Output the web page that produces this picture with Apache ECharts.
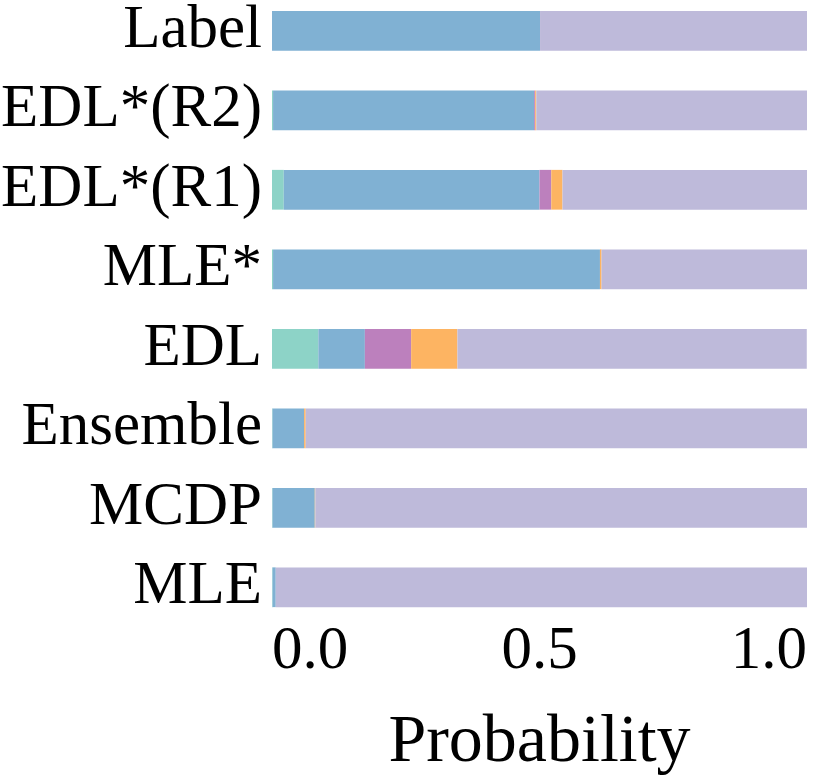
<!DOCTYPE html>
<html>
<head>
<meta charset="utf-8">
<script src="https://cdn.jsdelivr.net/npm/echarts@6/dist/echarts.min.js"></script>
<style>html,body{margin:0;padding:0;background:#fff;}#c{width:814px;height:781px;}</style>
</head>
<body>
<div id="c"></div>
<script>
const categories = ['MLE', 'MCDP', 'Ensemble', 'EDL', 'MLE*', 'EDL*(R1)', 'EDL*(R2)', 'Label'];
const teal     = [0.001, 0.001, 0.001, 0.0866, 0.002, 0.022, 0.002, 0.0];
const blue     = [0.006, 0.079, 0.059, 0.087, 0.611, 0.478, 0.488, 0.501];
const purple   = [0.0, 0.0, 0.0, 0.0865, 0.0, 0.022, 0.002, 0.0];
const orange   = [0.0, 0.001, 0.003, 0.0865, 0.003, 0.021, 0.002, 0.0];
const lavender = [0.993, 0.919, 0.937, 0.653, 0.384, 0.457, 0.506, 0.499];
const xTicks = [0, 0.5, 1];

const FONT = "'Liberation Serif', 'Times New Roman', serif";
const chart = echarts.init(document.getElementById('c'), null, {renderer: 'canvas'});
const mk = (name, data, color) => ({
  name, type: 'bar', stack: 'p', data, barWidth: '50%',
  itemStyle: {color}, emphasis: {disabled: true}
});
chart.setOption({
  animation: false,
  grid: {left: 272, right: 7, top: -9, bottom: 154, containLabel: false, outerBoundsMode: 'none'},
  xAxis: {
    type: 'value', min: xTicks[0], max: xTicks[xTicks.length - 1], interval: 0.5,
    axisLine: {show: false}, axisTick: {show: false}, splitLine: {show: false},
    axisLabel: {
      fontFamily: FONT, fontSize: 61, color: '#000', margin: -6,
      alignMinLabel: 'left', alignMaxLabel: 'right',
      formatter: v => v.toFixed(1)
    },
    name: 'Probability', nameLocation: 'middle', nameGap: 82,
    nameTextStyle: {fontFamily: FONT, fontSize: 68, color: '#000'}
  },
  yAxis: {
    type: 'category', data: categories,
    axisLine: {show: false}, axisTick: {show: false},
    axisLabel: {fontFamily: FONT, fontSize: 61, color: '#000', margin: 10, interval: 0, hideOverlap: false}
  },
  series: [
    mk('c1', teal, '#8dd3c7'),
    mk('c2', blue, '#80b1d3'),
    mk('c3', purple, '#bc80bd'),
    mk('c4', orange, '#fdb462'),
    mk('c5', lavender, '#bebada')
  ]
});
</script>
</body>
</html>
